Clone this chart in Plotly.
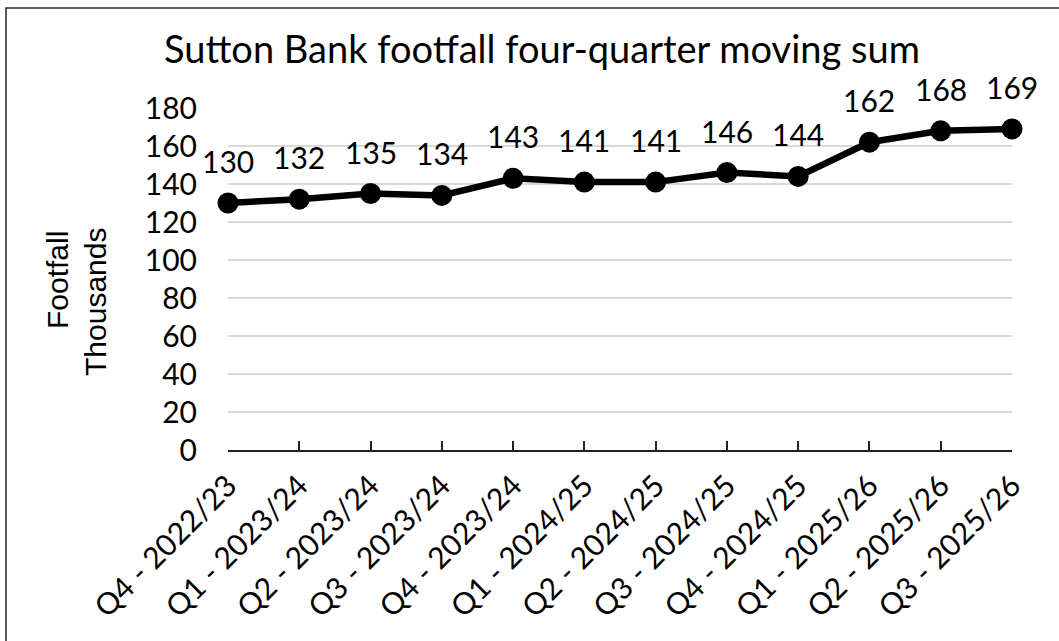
import plotly.graph_objects as go

categories = ["Q4 - 2022/23", "Q1 - 2023/24", "Q2 - 2023/24", "Q3 - 2023/24",
              "Q4 - 2023/24", "Q1 - 2024/25", "Q2 - 2024/25", "Q3 - 2024/25",
              "Q4 - 2024/25", "Q1 - 2025/26", "Q2 - 2025/26", "Q3 - 2025/26"]
footfall = [130, 132, 135, 134, 143, 141, 141, 146, 144, 162, 168, 169]
y_ticks = [0, 20, 40, 60, 80, 100, 120, 140, 160, 180]

W, H = 1059, 641
L, R, T, B = 228, 1012, 108, 450  # plot area in pixels


def px(x):
    return (x - L) / (R - L)


def py(y):
    return (B - y) / (B - T)


fig = go.Figure()
fig.add_trace(go.Scatter(
    x=categories, y=footfall, mode="lines+markers",
    line=dict(color="black", width=6.5),
    marker=dict(color="black", size=21),
    cliponaxis=False, hoverinfo="skip", showlegend=False,
))

annotations = []
for c, v in zip(categories, footfall):
    annotations.append(dict(
        x=c, y=v, xref="x", yref="y", text=str(v), showarrow=False,
        yanchor="middle", xanchor="center", yshift=42,
        font=dict(family="Lato", size=30, color="black"),
    ))

annotations.append(dict(
    x=px(57), y=py(280), xref="paper", yref="paper", text="Footfall",
    showarrow=False, textangle=-90, xanchor="center", yanchor="middle",
    font=dict(family="Liberation Sans", size=30, color="black"),
))
annotations.append(dict(
    x=px(95), y=py(302), xref="paper", yref="paper", text="Thousands",
    showarrow=False, textangle=-90, xanchor="center", yanchor="middle",
    font=dict(family="Liberation Sans", size=30, color="black"),
))

fig.update_layout(
    width=W, height=H,
    margin=dict(l=L, r=W - R, t=T, b=H - B, pad=0),
    paper_bgcolor="white", plot_bgcolor="white",
    title=dict(text="Sutton Bank footfall four-quarter moving sum",
               x=542 / W, xref="container", xanchor="center",
               y=1 - 50 / H, yref="container", yanchor="middle",
               font=dict(family="Lato", size=38, color="black")),
    annotations=annotations,
    shapes=[dict(type="rect", xref="paper", yref="paper",
                 x0=px(6), x1=px(1075), y0=py(660), y1=py(8),
                 line=dict(color="#222222", width=1.5), fillcolor="rgba(0,0,0,0)",
                 layer="above")],
    font=dict(family="Lato", size=30, color="black"),
)

fig.update_xaxes(
    type="category", range=[0, len(categories) - 1],
    showline=True, linecolor="#222222", linewidth=2,
    ticks="inside", ticklen=9, tickcolor="#222222", tickwidth=2,
    tickangle=-45, showgrid=False, zeroline=False,
    tickfont=dict(family="Lato", size=30, color="black"),
    ticklabelstandoff=4,
)
fig.update_yaxes(
    range=[0, 180], tickvals=y_ticks,
    showgrid=True, gridcolor="#D9D9D9", gridwidth=1.5,
    showline=False, zeroline=False, ticks="",
    tickfont=dict(family="Lato", size=30, color="black"),
    ticklabelstandoff=30,
)

fig.write_html("out.html")
